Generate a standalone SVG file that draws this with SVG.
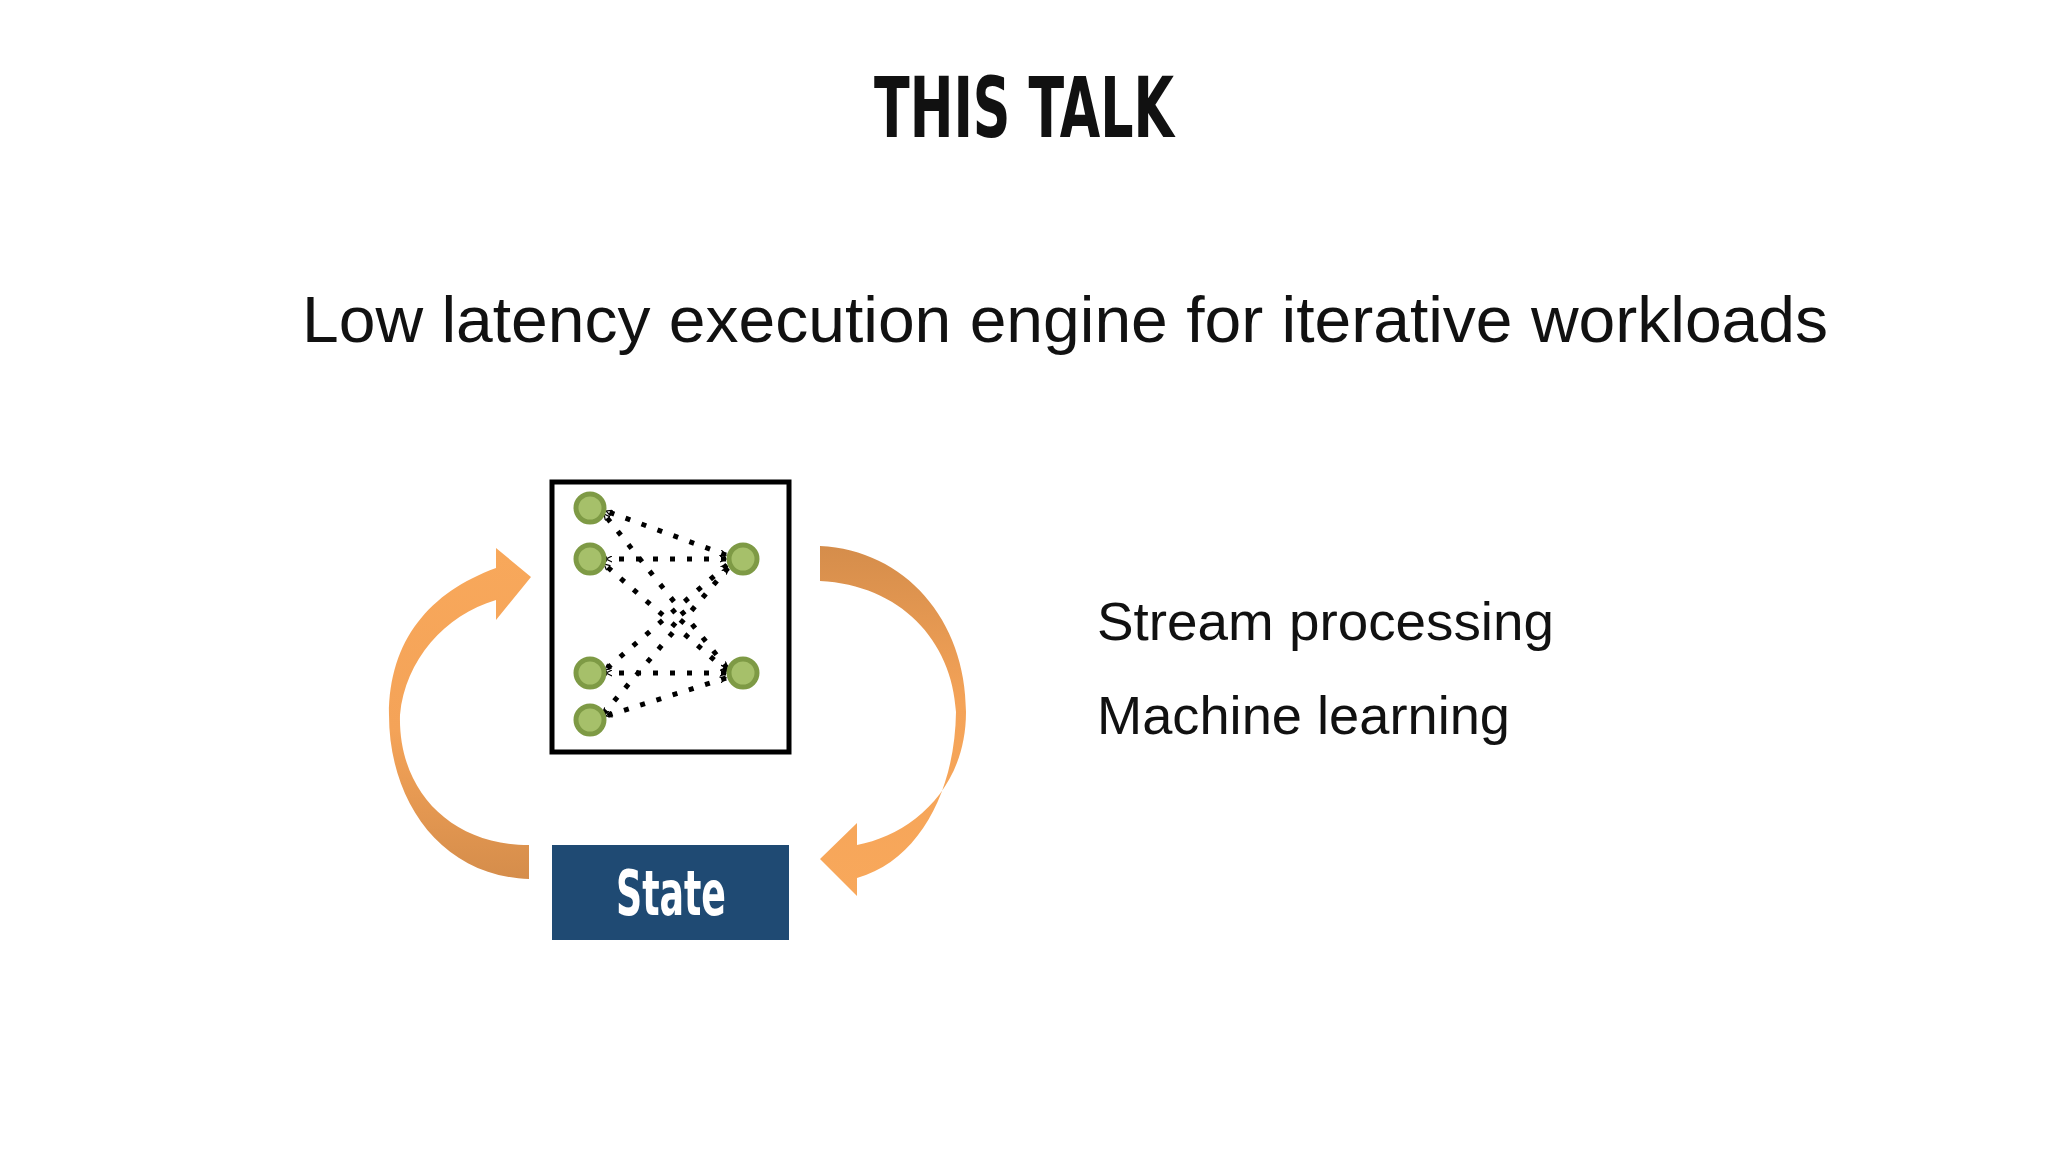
<svg xmlns="http://www.w3.org/2000/svg" width="2048" height="1152" viewBox="0 0 2048 1152">
<style>
.cond{font-family:"DejaVu Sans Condensed","DejaVu Sans",sans-serif;font-weight:bold}
.body{font-family:"Liberation Sans",Arial,sans-serif;fill:#111}
.node{fill:#A6C06A;stroke:#7E9A45;stroke-width:5}
.edge{stroke:#000;stroke-width:5;stroke-dasharray:5 12;fill:none;marker-start:url(#ah);marker-end:url(#ah)}
</style>
<defs>
<marker id="ah" viewBox="0 0 20 20" refX="18" refY="10" markerWidth="7" markerHeight="7" orient="auto-start-reverse" markerUnits="userSpaceOnUse">
<path d="M2,2 L18,10 L2,18" fill="none" stroke="#000" stroke-width="3.5" stroke-linecap="round"/>
</marker>
<linearGradient id="gl" x1="0" y1="0" x2="0" y2="1"><stop offset="0" stop-color="#F8A85B"/><stop offset="0.55" stop-color="#F4A358"/><stop offset="1" stop-color="#D58D4B"/></linearGradient>
<linearGradient id="gr" x1="0" y1="0" x2="0" y2="1"><stop offset="0" stop-color="#D58D4B"/><stop offset="0.45" stop-color="#F4A358"/><stop offset="1" stop-color="#F8A85B"/></linearGradient>
</defs>
<rect width="2048" height="1152" fill="#fff"/>
<text id="title" class="cond" x="1024" y="137" font-size="84" text-anchor="middle" textLength="300" lengthAdjust="spacingAndGlyphs" fill="#111">THIS TALK</text>
<text id="subtitle" class="body" x="302" y="342" font-size="64" textLength="1526" lengthAdjust="spacingAndGlyphs">Low latency execution engine for iterative workloads</text>
<g id="bullets">
<text class="body" x="1097" y="640" font-size="54" textLength="457" lengthAdjust="spacingAndGlyphs">Stream processing</text>
<text class="body" x="1097" y="734" font-size="54" textLength="413" lengthAdjust="spacingAndGlyphs">Machine learning</text>
</g>
<g id="loop-arrows">
<path d="M529,879 C440,876 389,800 389,715 C389,640 430,592 496,568 L496,548 L531,577 L496,620 L496,600 C445,615 405,660 400,715 C398,790 450,845 529,845 Z" fill="url(#gl)"/>
<path d="M820,546 C905,550 966,620 966,712 C966,790 910,835 857,845 L857,823 L820,859 L857,896 L857,878 C920,860 955,790 956,712 C952,640 900,585 820,581 Z" fill="url(#gr)"/>
</g>
<g id="operator">
<rect x="552" y="482" width="237" height="270" fill="#fff" stroke="#000" stroke-width="5"/>
</g>
<g id="connectors">
<line class="edge" x1="726" y1="555" x2="606" y2="511"/>
<line class="edge" x1="726" y1="559" x2="606" y2="559"/>
<line class="edge" x1="727" y1="565" x2="605" y2="670"/>
<line class="edge" x1="728" y1="568" x2="603" y2="714"/>
<line class="edge" x1="727" y1="668" x2="604" y2="514"/>
<line class="edge" x1="727" y1="671" x2="604" y2="564"/>
<line class="edge" x1="726" y1="673" x2="606" y2="673"/>
<line class="edge" x1="726" y1="678" x2="606" y2="716"/>
</g>
<g id="tasks">
<circle class="node" cx="590" cy="508" r="14"/>
<circle class="node" cx="590" cy="559" r="14"/>
<circle class="node" cx="590" cy="673" r="14"/>
<circle class="node" cx="590" cy="720" r="14"/>
<circle class="node" cx="743" cy="559" r="14"/>
<circle class="node" cx="743" cy="673" r="14"/>
</g>
<g id="state">
<rect x="552" y="845" width="237" height="95" fill="#1F4A73"/>
<text class="cond" x="671" y="915" font-size="62" text-anchor="middle" fill="#fff" textLength="110" lengthAdjust="spacingAndGlyphs">State</text>
</g>
</svg>
